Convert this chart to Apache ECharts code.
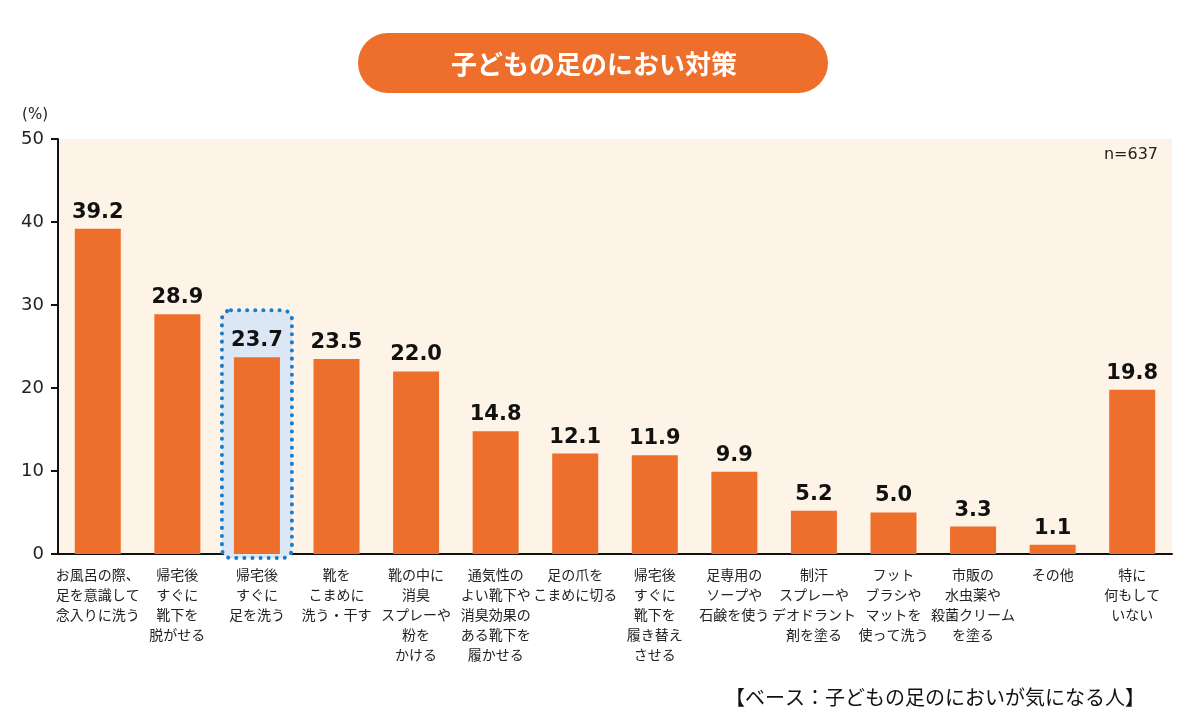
<!DOCTYPE html>
<html>
<head>
<meta charset="utf-8">
<script src="https://cdn.jsdelivr.net/npm/echarts@6/dist/echarts.min.js"></script>
<style>
  html, body { margin: 0; padding: 0; background: #fff; }
  #main { width: 1200px; height: 726px; }
</style>
</head>
<body>
<div id="main"></div>
<script>
// 項目名（改行込み）
var categories = [
  'お風呂の際、\n足を意識して\n念入りに洗う',
  '帰宅後\nすぐに\n靴下を\n脱がせる',
  '帰宅後\nすぐに\n足を洗う',
  '靴を\nこまめに\n洗う・干す',
  '靴の中に\n消臭\nスプレーや\n粉を\nかける',
  '通気性の\nよい靴下や\n消臭効果の\nある靴下を\n履かせる',
  '足の爪を\nこまめに切る',
  '帰宅後\nすぐに\n靴下を\n履き替え\nさせる',
  '足専用の\nソープや\n石鹸を使う',
  '制汗\nスプレーや\nデオドラント\n剤を塗る',
  'フット\nブラシや\nマットを\n使って洗う',
  '市販の\n水虫薬や\n殺菌クリーム\nを塗る',
  'その他',
  '特に\n何もして\nいない'
];
var values = [39.2, 28.9, 23.7, 23.5, 22.0, 14.8, 12.1, 11.9, 9.9, 5.2, 5.0, 3.3, 1.1, 19.8];
var highlightIndex = 2;
var titleText = '子どもの足のにおい対策';
var sampleText = 'n=637';
var baseText = '【ベース：子どもの足のにおいが気になる人】';

var jpFont = '"Noto Sans CJK JP", "Noto Sans", sans-serif';
var numFont = '"DejaVu Sans", "Noto Sans CJK JP", sans-serif';
var orange = '#EE6E2B';

var myChart = echarts.init(document.getElementById('main'));

var option = {
  backgroundColor: '#ffffff',
  animation: false,
  grid: {
    left: 58,
    right: 28,
    top: 139,
    bottom: 172,
    show: true,
    backgroundColor: '#FDF3E6',
    borderWidth: 0
  },
  xAxis: {
    type: 'category',
    data: categories,
    axisLine: { lineStyle: { color: '#111', width: 2 } },
    axisTick: { length: 8, lineStyle: { color: '#111', width: 2 } },
    axisLabel: {
      interval: 0,
      margin: 11,
      color: '#222',
      fontSize: 14,
      lineHeight: 20,
      fontFamily: jpFont
    }
  },
  yAxis: {
    type: 'value',
    min: 0,
    max: 50,
    interval: 10,
    name: '(%)',
    nameLocation: 'end',
    nameGap: 16,
    nameTextStyle: { color: '#222', fontSize: 15, fontFamily: numFont, align: 'right', padding: [0, 10, 0, 0] },
    axisLine: { show: true, lineStyle: { color: '#111', width: 2 } },
    axisTick: { show: true, length: 7, lineStyle: { color: '#111', width: 2 } },
    axisLabel: { color: '#222', fontSize: 18, fontFamily: numFont, margin: 14 },
    splitLine: { show: false }
  },
  series: [
    {
      // 強調枠（点線の角丸）
      type: 'custom',
      z: 1,
      silent: true,
      data: [[highlightIndex, values[highlightIndex]]],
      renderItem: function (params, api) {
        var top = api.coord([api.value(0), api.value(1)]);
        var base = api.coord([api.value(0), 0]);
        return {
          type: 'rect',
          shape: { x: top[0] - 35, y: top[1] - 47, width: 70, height: base[1] - top[1] + 51, r: 9 },
          style: {
            fill: '#DCE7F6',
            stroke: '#1B7BC6',
            lineWidth: 4,
            lineDash: [0.1, 8],
            lineCap: 'round'
          }
        };
      }
    },
    {
      type: 'bar',
      data: values,
      barWidth: 46,
      z: 3,
      itemStyle: { color: orange },
      label: {
        show: true,
        position: 'top',
        distance: 6,
        color: '#111',
        fontSize: 21,
        fontWeight: 'bold',
        fontFamily: numFont,
        formatter: function (p) { return p.value.toFixed(1); }
      }
    }
  ],
  graphic: [
    {
      type: 'rect',
      shape: { x: 358, y: 33, width: 470, height: 60, r: 30 },
      style: { fill: orange }
    },
    {
      type: 'text',
      x: 594, y: 64,
      style: {
        text: titleText,
        fill: '#fff',
        font: 'bold 26px ' + jpFont,
        align: 'center',
        verticalAlign: 'middle'
      }
    },
    {
      type: 'text',
      x: 1158, y: 155,
      style: {
        text: sampleText,
        fill: '#222',
        font: '16px ' + numFont,
        align: 'right',
        verticalAlign: 'middle'
      }
    },
    {
      type: 'text',
      x: 1145, y: 697,
      style: {
        text: baseText,
        fill: '#111',
        font: '20px ' + jpFont,
        align: 'right',
        verticalAlign: 'middle'
      }
    }
  ]
};

myChart.setOption(option);
</script>
</body>
</html>
